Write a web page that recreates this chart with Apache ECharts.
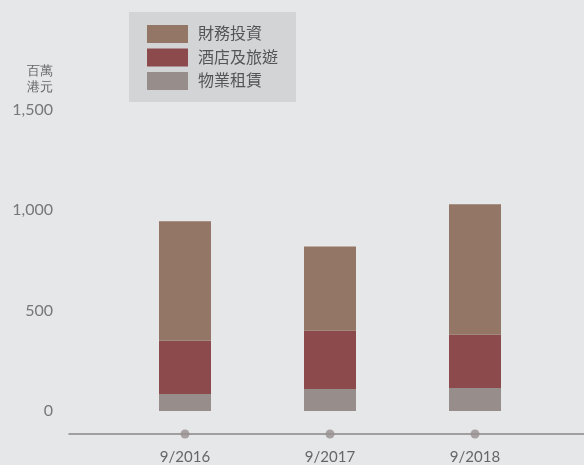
<!DOCTYPE html>
<html><head><meta charset="utf-8">
<script src="https://cdn.jsdelivr.net/npm/echarts@6/dist/echarts.min.js"></script>
<style>html,body{margin:0;padding:0;background:#e6e7e9;}#c{width:584px;height:465px;}</style>
</head><body><div id="c"></div>
<script>
const categories = ['9/2016', '9/2017', '9/2018'];
const propertyRental = [85, 110, 115];
const hotelTourism = [265, 290, 265];
const financialInvestment = [595, 420, 650];
const yTicks = { min: 0, max: 1500, interval: 500 };
const seriesNames = ['財務投資', '酒店及旅遊', '物業租賃'];

const FONT = "Lato, 'Noto Sans CJK TC', sans-serif";
const chart = echarts.init(document.getElementById('c'));
chart.setOption({
  backgroundColor: '#e6e7e9',
  animation: false,
  textStyle: { fontFamily: FONT },
  legend: {
    data: seriesNames,
    orient: 'vertical',
    icon: 'rect',
    left: 129, top: 12,
    backgroundColor: '#d3d4d6',
    padding: [13, 18, 12, 18],
    itemWidth: 41, itemHeight: 18, itemGap: 5.5,
    textStyle: { fontSize: 16, color: '#555', fontFamily: FONT, padding: [0, 0, 0, 5] }
  },
  graphic: [{
    type: 'text', x: 53, y: 64,
    style: { text: '百萬\n港元', textAlign: 'right', fontSize: 12.5, lineHeight: 16, fill: '#666', font: "12.5px 'Noto Sans CJK TC'" }
  }],
  grid: [
    { left: 112.5, right: 36.5, top: 110, bottom: 54 },
    { left: 69, right: 0, top: 110, bottom: 31 },
    { left: 112.5, right: 36.5, top: 110, bottom: 31 }
  ],
  xAxis: [
    { type: 'category', gridIndex: 0, data: categories, show: false },
    { type: 'value', gridIndex: 1, min: 0, max: 1, axisLine: { show: true, lineStyle: { color: '#8a8787', width: 1.5 } }, axisTick: { show: false }, axisLabel: { show: false }, splitLine: { show: false } },
    { type: 'category', gridIndex: 2, data: categories, axisLine: { show: false }, axisTick: { show: false },
      axisLabel: { margin: 20, fontSize: 15, color: '#666', fontFamily: FONT } }
  ],
  yAxis: [
    { type: 'value', gridIndex: 0, min: yTicks.min, max: yTicks.max, interval: yTicks.interval,
      axisLine: { show: false }, axisTick: { show: false }, splitLine: { show: false },
      axisLabel: { margin: 59.5, fontSize: 16, color: '#777', fontFamily: FONT,
        formatter: v => v.toLocaleString('en-US') } },
    { type: 'value', gridIndex: 1, show: false, min: 0, max: 1 },
    { type: 'value', gridIndex: 2, show: false, min: 0, max: 1 }
  ],
  series: [
    { name: '物業租賃', type: 'bar', stack: 't', barWidth: 52, data: propertyRental, itemStyle: { color: '#978e8b' } },
    { name: '酒店及旅遊', type: 'bar', stack: 't', barWidth: 52, data: hotelTourism, itemStyle: { color: '#8c4a4d' } },
    { name: '財務投資', type: 'bar', stack: 't', barWidth: 52, data: financialInvestment, itemStyle: { color: '#937665' } },
    { type: 'scatter', xAxisIndex: 2, yAxisIndex: 2, data: categories.map(() => 0), symbolSize: 9, symbolOffset: [0, 4], clip: false,
      itemStyle: { color: '#989090' }, z: 10, silent: true }
  ]
});
</script></body></html>
